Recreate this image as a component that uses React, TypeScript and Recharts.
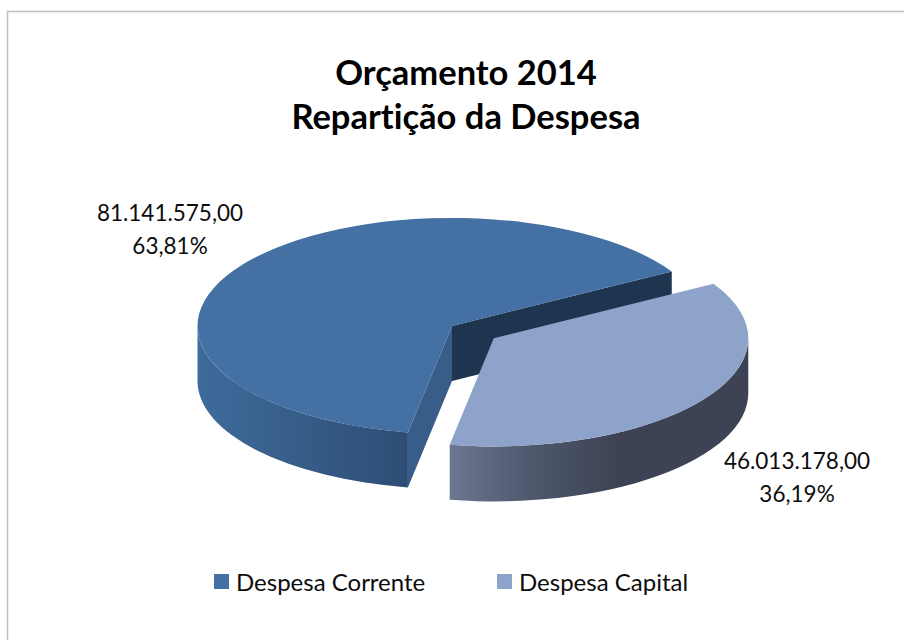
import { PieChart, Pie, Legend } from 'recharts'

const categories = ['Despesa Corrente', 'Despesa Capital']
const values = [81141575, 46013178]
const amountLabels = ['81.141.575,00', '46.013.178,00']
const percentLabels = ['63,81%', '36,19%']
const titleLines = ['Orçamento 2014', 'Repartição da Despesa']

const colors = ['#4470A4', '#8EA3C9']
const startFaceColors = ['#1E344F', '#3D4354']
const endFaceColors = ['#375D88', '#6C7791']
const wallStops = [
  [[0, '#3E6B9B'], [1, '#2E4D75']],
  [[0, '#6C7791'], [0.25, '#505A70'], [0.55, '#3D4354'], [1, '#3D4354']],
]
const explode = [0, 0.2]

const FONT = 'Lato, sans-serif'
const TEXT = '#0d0d0d'
const NO_LIGA = { fontVariantLigatures: 'none' } as const
const SQUASH = 0.4245 // tilt of the pie
const DEPTH = 55
const labelAnchors = [
  { x: 170, y: 220.5 },
  { x: 797, y: 469 },
]

const pieData = categories.map((name, i) => ({ name, value: values[i], fill: colors[i] }))

const rad = (a: number) => (a * Math.PI) / 180

const Slice3D = (props: any) => {
  const { cx, cy, outerRadius: rx, startAngle, endAngle, fill, name } = props
  const idx = categories.indexOf(name)
  const ry = rx * SQUASH
  const s = Math.min(startAngle, endAngle)
  const e = Math.max(startAngle, endAngle)
  const mid = rad((s + e) / 2)
  const ox = cx + explode[idx] * rx * Math.cos(mid)
  const oy = cy - explode[idx] * ry * Math.sin(mid)
  const pt = (a: number, dy = 0) => ({
    x: ox + rx * Math.cos(rad(a)),
    y: oy - ry * Math.sin(rad(a)) + dy,
  })

  const a = pt(s)
  const b = pt(e)
  const large = e - s > 180 ? 1 : 0
  const top = `M${ox},${oy} L${a.x},${a.y} A${rx},${ry} 0 ${large} 0 ${b.x},${b.y} Z`

  // only the front half of the rim can be seen
  const rims: string[] = []
  for (const [lo, hi] of [[180, 360], [540, 720]]) {
    const a1 = Math.max(s, lo)
    const a2 = Math.min(e, hi)
    if (a2 <= a1) continue
    const p1 = pt(a1)
    const p2 = pt(a2)
    const p3 = pt(a2, DEPTH)
    const p4 = pt(a1, DEPTH)
    rims.push(
      `M${p1.x},${p1.y} A${rx},${ry} 0 0 0 ${p2.x},${p2.y} L${p3.x},${p3.y} A${rx},${ry} 0 0 1 ${p4.x},${p4.y} Z`,
    )
  }

  const face = (p: { x: number; y: number }) =>
    `M${ox},${oy} L${p.x},${p.y} L${p.x},${p.y + DEPTH} L${ox},${oy + DEPTH} Z`
  const startVisible = Math.sin(rad(s - 90)) < 0
  const endVisible = Math.sin(rad(e + 90)) < 0
  const gradId = `wall-${idx}`

  return (
    <g>
      <defs>
        <linearGradient id={gradId} gradientUnits="userSpaceOnUse" x1={Math.min(a.x, b.x, ox - (idx === 0 ? rx : 0))} x2={idx === 0 ? b.x : ox + rx} y1={0} y2={0}>
          {wallStops[idx].map(([o, c]) => (
            <stop key={String(o)} offset={o as number} stopColor={c as string} />
          ))}
        </linearGradient>
      </defs>
      {startVisible && <path d={face(a)} fill={startFaceColors[idx]} />}
      {endVisible && <path d={face(b)} fill={endFaceColors[idx]} />}
      {rims.map(d => (
        <path key={d} d={d} fill={`url(#${gradId})`} />
      ))}
      <path d={top} fill={fill} />
    </g>
  )
}

const renderLabel = ({ index }: any) => {
  const { x, y } = labelAnchors[index]
  return (
    <text x={x} y={y} textAnchor="middle" fontFamily={FONT} fontSize={22.5} fill={TEXT}>
      <tspan x={x}>{amountLabels[index]}</tspan>
      <tspan x={x} dy={33}>{percentLabels[index]}</tspan>
    </text>
  )
}

const legendLeft = [214, 497]

const LegendBox = ({ payload }: any) => (
  <div style={{ position: 'relative', height: 30, fontFamily: FONT }}>
    {(payload ?? []).map((p: any, i: number) => (
      <div key={p.value} style={{ position: 'absolute', left: legendLeft[i], top: 0, display: 'flex', alignItems: 'center', height: 30 }}>
        <span style={{ width: 15, height: 15, background: p.color, marginRight: 7, display: 'inline-block' }} />
        <span style={{ fontSize: 24, color: TEXT }}>{p.value}</span>
      </div>
    ))}
  </div>
)

export default function App() {
  return (
    <div style={{ position: 'absolute', left: 0, top: 0, width: 904, height: 640, background: '#fff' }}>
      <PieChart width={904} height={640} margin={{ top: 0, right: 0, bottom: 0, left: 0 }}>
        <rect x={7.5} y={11.5} width={1000} height={1000} fill="none" stroke="#bfbfbf" strokeWidth={1.5} />
        <text x={466} textAnchor="middle" fontFamily={FONT} fontSize={34.5} fontWeight={700} fill="#000" style={NO_LIGA}>
          <tspan x={466} y={85}>{titleLines[0]}</tspan>
          <tspan x={466} y={129}>{titleLines[1]}</tspan>
        </text>
        <Pie
          data={pieData}
          dataKey="value"
          nameKey="name"
          cx={452}
          cy={326}
          innerRadius={0}
          outerRadius={254.5}
          startAngle={30.3}
          endAngle={390.3}
          stroke="none"
          shape={Slice3D}
          label={renderLabel}
          labelLine={false}
          isAnimationActive={false}
        />
        <Legend content={<LegendBox />} itemSorter={null} wrapperStyle={{ left: 0, top: 566, width: 904 }} />
      </PieChart>
    </div>
  )
}
